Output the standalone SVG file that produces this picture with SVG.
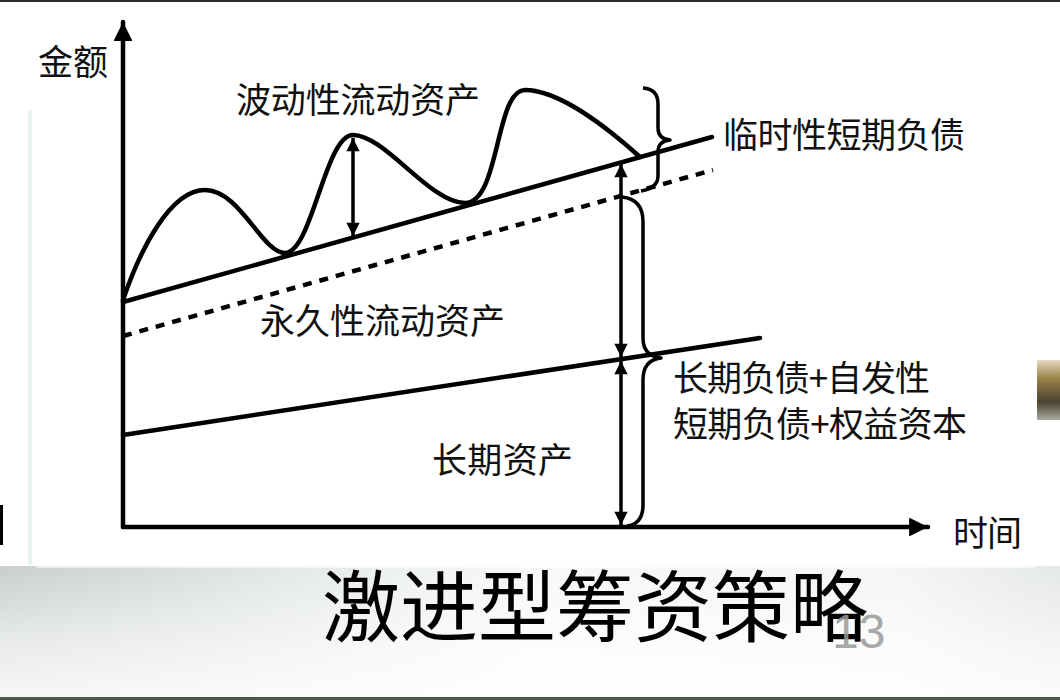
<svg xmlns="http://www.w3.org/2000/svg" width="1060" height="700" viewBox="0 0 1060 700">
  <defs>
    <linearGradient id="band" x1="0" y1="0" x2="1" y2="0">
      <stop offset="0" stop-color="#c8cfcc"/>
      <stop offset="0.3" stop-color="#e6ebe9"/>
      <stop offset="0.5" stop-color="#f7f9f8"/>
      <stop offset="0.85" stop-color="#f4f6f5"/>
      <stop offset="1" stop-color="#e4e8e6"/>
    </linearGradient>
    <linearGradient id="bandV" x1="0" y1="0" x2="0" y2="1">
      <stop offset="0" stop-color="#ffffff" stop-opacity="0"/>
      <stop offset="0.6" stop-color="#ffffff" stop-opacity="0.6"/>
      <stop offset="1" stop-color="#ffffff" stop-opacity="0.85"/>
    </linearGradient>
    <linearGradient id="gold" x1="0" y1="0" x2="0" y2="1">
      <stop offset="0" stop-color="#e6dcc0"/>
      <stop offset="0.3" stop-color="#9c8348"/>
      <stop offset="0.7" stop-color="#4a4430"/>
      <stop offset="1" stop-color="#a8aaa0"/>
    </linearGradient>
    <marker id="ah" viewBox="0 0 10 10" refX="10" refY="5" markerWidth="4.4" markerHeight="3.8" orient="auto-start-reverse" markerUnits="strokeWidth">
      <path d="M0,0 L10,5 L0,10 Z" fill="#000"/>
    </marker>
    <marker id="axh" viewBox="0 0 10 10" refX="10" refY="5" markerWidth="4.8" markerHeight="4.2" orient="auto" markerUnits="strokeWidth">
      <path d="M0,0 L10,5 L0,10 Z" fill="#000"/>
    </marker>
  </defs>
  <style>
    .lbl { font-family: "Noto Sans CJK SC", "Noto Sans", sans-serif; font-size: 35px; fill: #111; }
    .title { font-family: "Noto Sans CJK SC", "Noto Sans", sans-serif; font-size: 78px; fill: #000; }
    .ln { stroke: #000; stroke-width: 4.5; fill: none; stroke-linecap: round; }
    .dash { stroke: #000; stroke-width: 4.5; fill: none; stroke-dasharray: 9 8; }
    .arr { stroke: #000; stroke-width: 3.5; fill: none; marker-start: url(#ah); marker-end: url(#ah); }
    .brace { stroke: #000; stroke-width: 3.5; fill: none; stroke-linejoin: round; }
  </style>

  <!-- background -->
  <rect x="0" y="0" width="1060" height="700" fill="#ffffff"/>
  <rect x="0" y="0" width="1060" height="2" fill="#2a2a2a"/>
  <rect x="0" y="566" width="1060" height="134" fill="url(#band)"/>
  <rect x="0" y="566" width="1060" height="134" fill="url(#bandV)"/>
  <rect x="36" y="560" width="1000" height="8" fill="#ffffff" opacity="0.6"/>
  <rect x="0" y="697" width="1060" height="3" fill="#4a5a48"/>
  <rect x="28" y="110" width="4" height="455" fill="#e6f4f2"/>
  <rect x="0" y="505" width="3" height="40" fill="#000"/>
  <rect x="1037" y="360" width="23" height="60" fill="url(#gold)"/>

  <!-- connectors -->
  <g id="connectors">
    <line id="y-axis" class="ln" x1="123" y1="527" x2="123" y2="22" marker-end="url(#axh)"/>
    <line id="x-axis" class="ln" x1="123" y1="527" x2="928" y2="527" marker-end="url(#axh)"/>
    <line id="temp-line" class="ln" x1="123" y1="302" x2="712" y2="137"/>
    <line id="perm-dash" class="dash" x1="123" y1="336" x2="713" y2="170"/>
    <line id="long-line" class="ln" x1="123" y1="435" x2="760" y2="338"/>
    <path id="wave" class="ln" d="M123,300 C140,250 170,190 205,190 C240,190 262,253 285,253 C312,253 325,135 353,135 C385,135 430,203 465,203 C500,203 495,90 525,90 C560,90 610,130 640,157"/>
    <line id="arr-wave" class="arr" x1="353" y1="138" x2="353" y2="236"/>
    <line id="arr-perm" class="arr" x1="621" y1="164" x2="621" y2="357"/>
    <line id="arr-long" class="arr" x1="621" y1="361" x2="621" y2="525"/>
    <path id="brace-small" class="brace" d="M643,88 Q658,89 658,104 L658,128 Q658,139 670,140 Q658,141 658,152 L658,176 Q658,188 641,191"/>
    <path id="brace-big" class="brace" d="M622,197 Q643,199 643,222 L643,338 Q643,356 661,358 Q643,360 643,380 L643,505 Q643,524 627,526"/>
  </g>

  <!-- labels -->
  <g id="label-amount"><text class="lbl" x="38" y="75">金额</text></g>
  <g id="label-wave"><text class="lbl" x="236" y="113" textLength="244">波动性流动资产</text></g>
  <g id="label-temp"><text class="lbl" x="723" y="148" textLength="242">临时性短期负债</text></g>
  <g id="label-perm"><text class="lbl" x="260" y="334" textLength="245">永久性流动资产</text></g>
  <g id="label-finance">
    <text class="lbl" x="673" y="391" textLength="257">长期负债+自发性</text>
    <text class="lbl" x="673" y="437" textLength="294">短期负债+权益资本</text>
  </g>
  <g id="label-long"><text class="lbl" x="432" y="473" textLength="141">长期资产</text></g>
  <g id="label-time"><text class="lbl" x="953" y="546" textLength="69">时间</text></g>
  <g id="title"><text class="title" x="322" y="636" textLength="546">激进型筹资策略</text></g>
  <g id="page-number"><text x="832" y="648" font-family="Liberation Sans, sans-serif" font-size="48" fill="#9a9a9a" opacity="0.85">13</text></g>
</svg>
